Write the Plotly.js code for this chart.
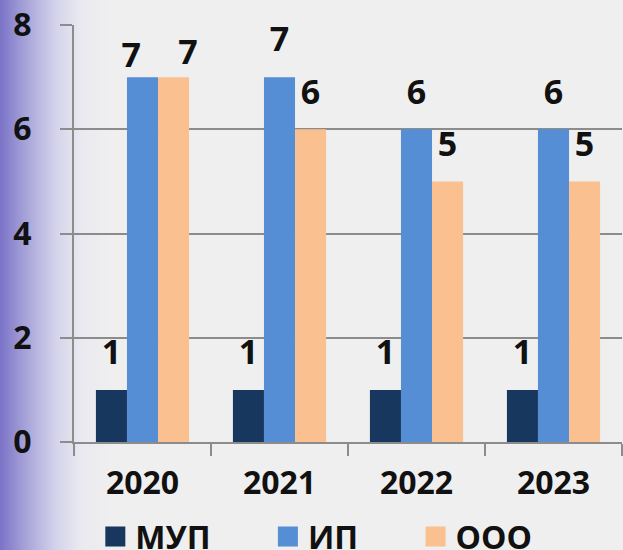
<!DOCTYPE html>
<html><head><meta charset="utf-8">
<script src="https://cdn.plot.ly/plotly-3.0.1.min.js"></script>
<style>
html,body{margin:0;padding:0;}
#chart{width:623px;height:550px;background:linear-gradient(to right,#7a73c8 0px,#a6a2d8 25px,#d3d2ea 55px,#e9e9f0 80px,#efefef 110px,#efefef 100%);}
</style></head><body>
<div id="chart"></div>
<script>
const years = ['2020','2021','2022','2023'];
const mup = [1,1,1,1];
const ip = [7,7,6,6];
const ooo = [7,6,5,5];
const names = ['МУП','ИП','ООО'];
const colors = ['#17375e','#558ed5','#fac090'];
const FONT = 'Open Sans, Lato, sans-serif';
const series = [mup, ip, ooo];
const GAP = 0.32;

// label placement style (the two touching 2020 labels are nudged apart, as in the original)
const labelPos = [
  ['top center','top center','top center','top center'],
  ['top left','top center','top center','top center'],
  ['top right','top center','top center','top center']
];
const labelPad = [
  [26,26,26,26],
  [1,26,26,26],
  [6,26,26,26]
];

const bars = series.map((v,i)=>({
  type:'bar', x:years, y:v, name:names[i], showlegend:false,
  marker:{color:colors[i]}, hoverinfo:'skip'
}));
const labels = series.map((v,i)=>({
  type:'scatter', mode:'markers+text', x:years, y:v, showlegend:false,
  offsetgroup:'g'+i, alignmentgroup:'lab',
  text:v.map(String), textposition:labelPos[i], cliponaxis:false,
  marker:{size:labelPad[i], opacity:0, color:colors[i]},
  textfont:{family:FONT, size:34, color:'#111', weight:'bold'}, hoverinfo:'skip'
}));
const legendIds = ['legend','legend2','legend3'];
const legendEntries = names.map((n,i)=>({
  type:'scatter', mode:'markers', x:[null], y:[null], name:n,
  xaxis:'x2', yaxis:'y2', legend:legendIds[i],
  marker:{symbol:'square', size:16, color:colors[i], line:{color:colors[i], width:4}}
}));
const legFont = {family:FONT, size:32, weight:'bold', color:'#111'};
const legBase = {orientation:'h', xref:'container', yref:'container', yanchor:'middle', xanchor:'left', y:0.024,
  font:legFont, bgcolor:'rgba(0,0,0,0)', itemwidth:30};
const layout = {
  width:623, height:550,
  margin:{l:74, r:1, t:25, b:108, autoexpand:false},
  paper_bgcolor:'rgba(0,0,0,0)', plot_bgcolor:'rgba(0,0,0,0)',
  barmode:'group', bargap:GAP, bargroupgap:0,
  scattermode:'group', scattergap:GAP,
  font:{family:FONT, color:'#111'},
  showlegend:true,
  legend:Object.assign({}, legBase, {x:0.153}),
  legend2:Object.assign({}, legBase, {x:0.430}),
  legend3:Object.assign({}, legBase, {x:0.667}),
  xaxis:{type:'category', automargin:false, tickson:'boundaries', ticks:'outside', ticklen:12, tickwidth:2, tickcolor:'#8c8c8c',
    showline:true, linecolor:'#8c8c8c', linewidth:2, showgrid:false, ticklabelstandoff:12,
    tickfont:{family:FONT, size:32, weight:'bold', color:'#111'}},
  yaxis:{range:[0,8], automargin:false, dtick:2, ticks:'outside', ticklen:12, tickwidth:2, tickcolor:'#8c8c8c',
    showgrid:true, gridcolor:'#8c8c8c', gridwidth:2, zeroline:false,
    showline:true, linecolor:'#8c8c8c', linewidth:2,
    tickfont:{family:FONT, size:32, weight:'bold', color:'#111'}, ticklabelstandoff:22},
  xaxis2:{overlaying:'x', visible:false, range:[0,1]},
  yaxis2:{overlaying:'y', visible:false, range:[0,1]}
};
Plotly.newPlot('chart', bars.concat(labels, legendEntries), layout, {displayModeBar:false});
</script></body></html>
